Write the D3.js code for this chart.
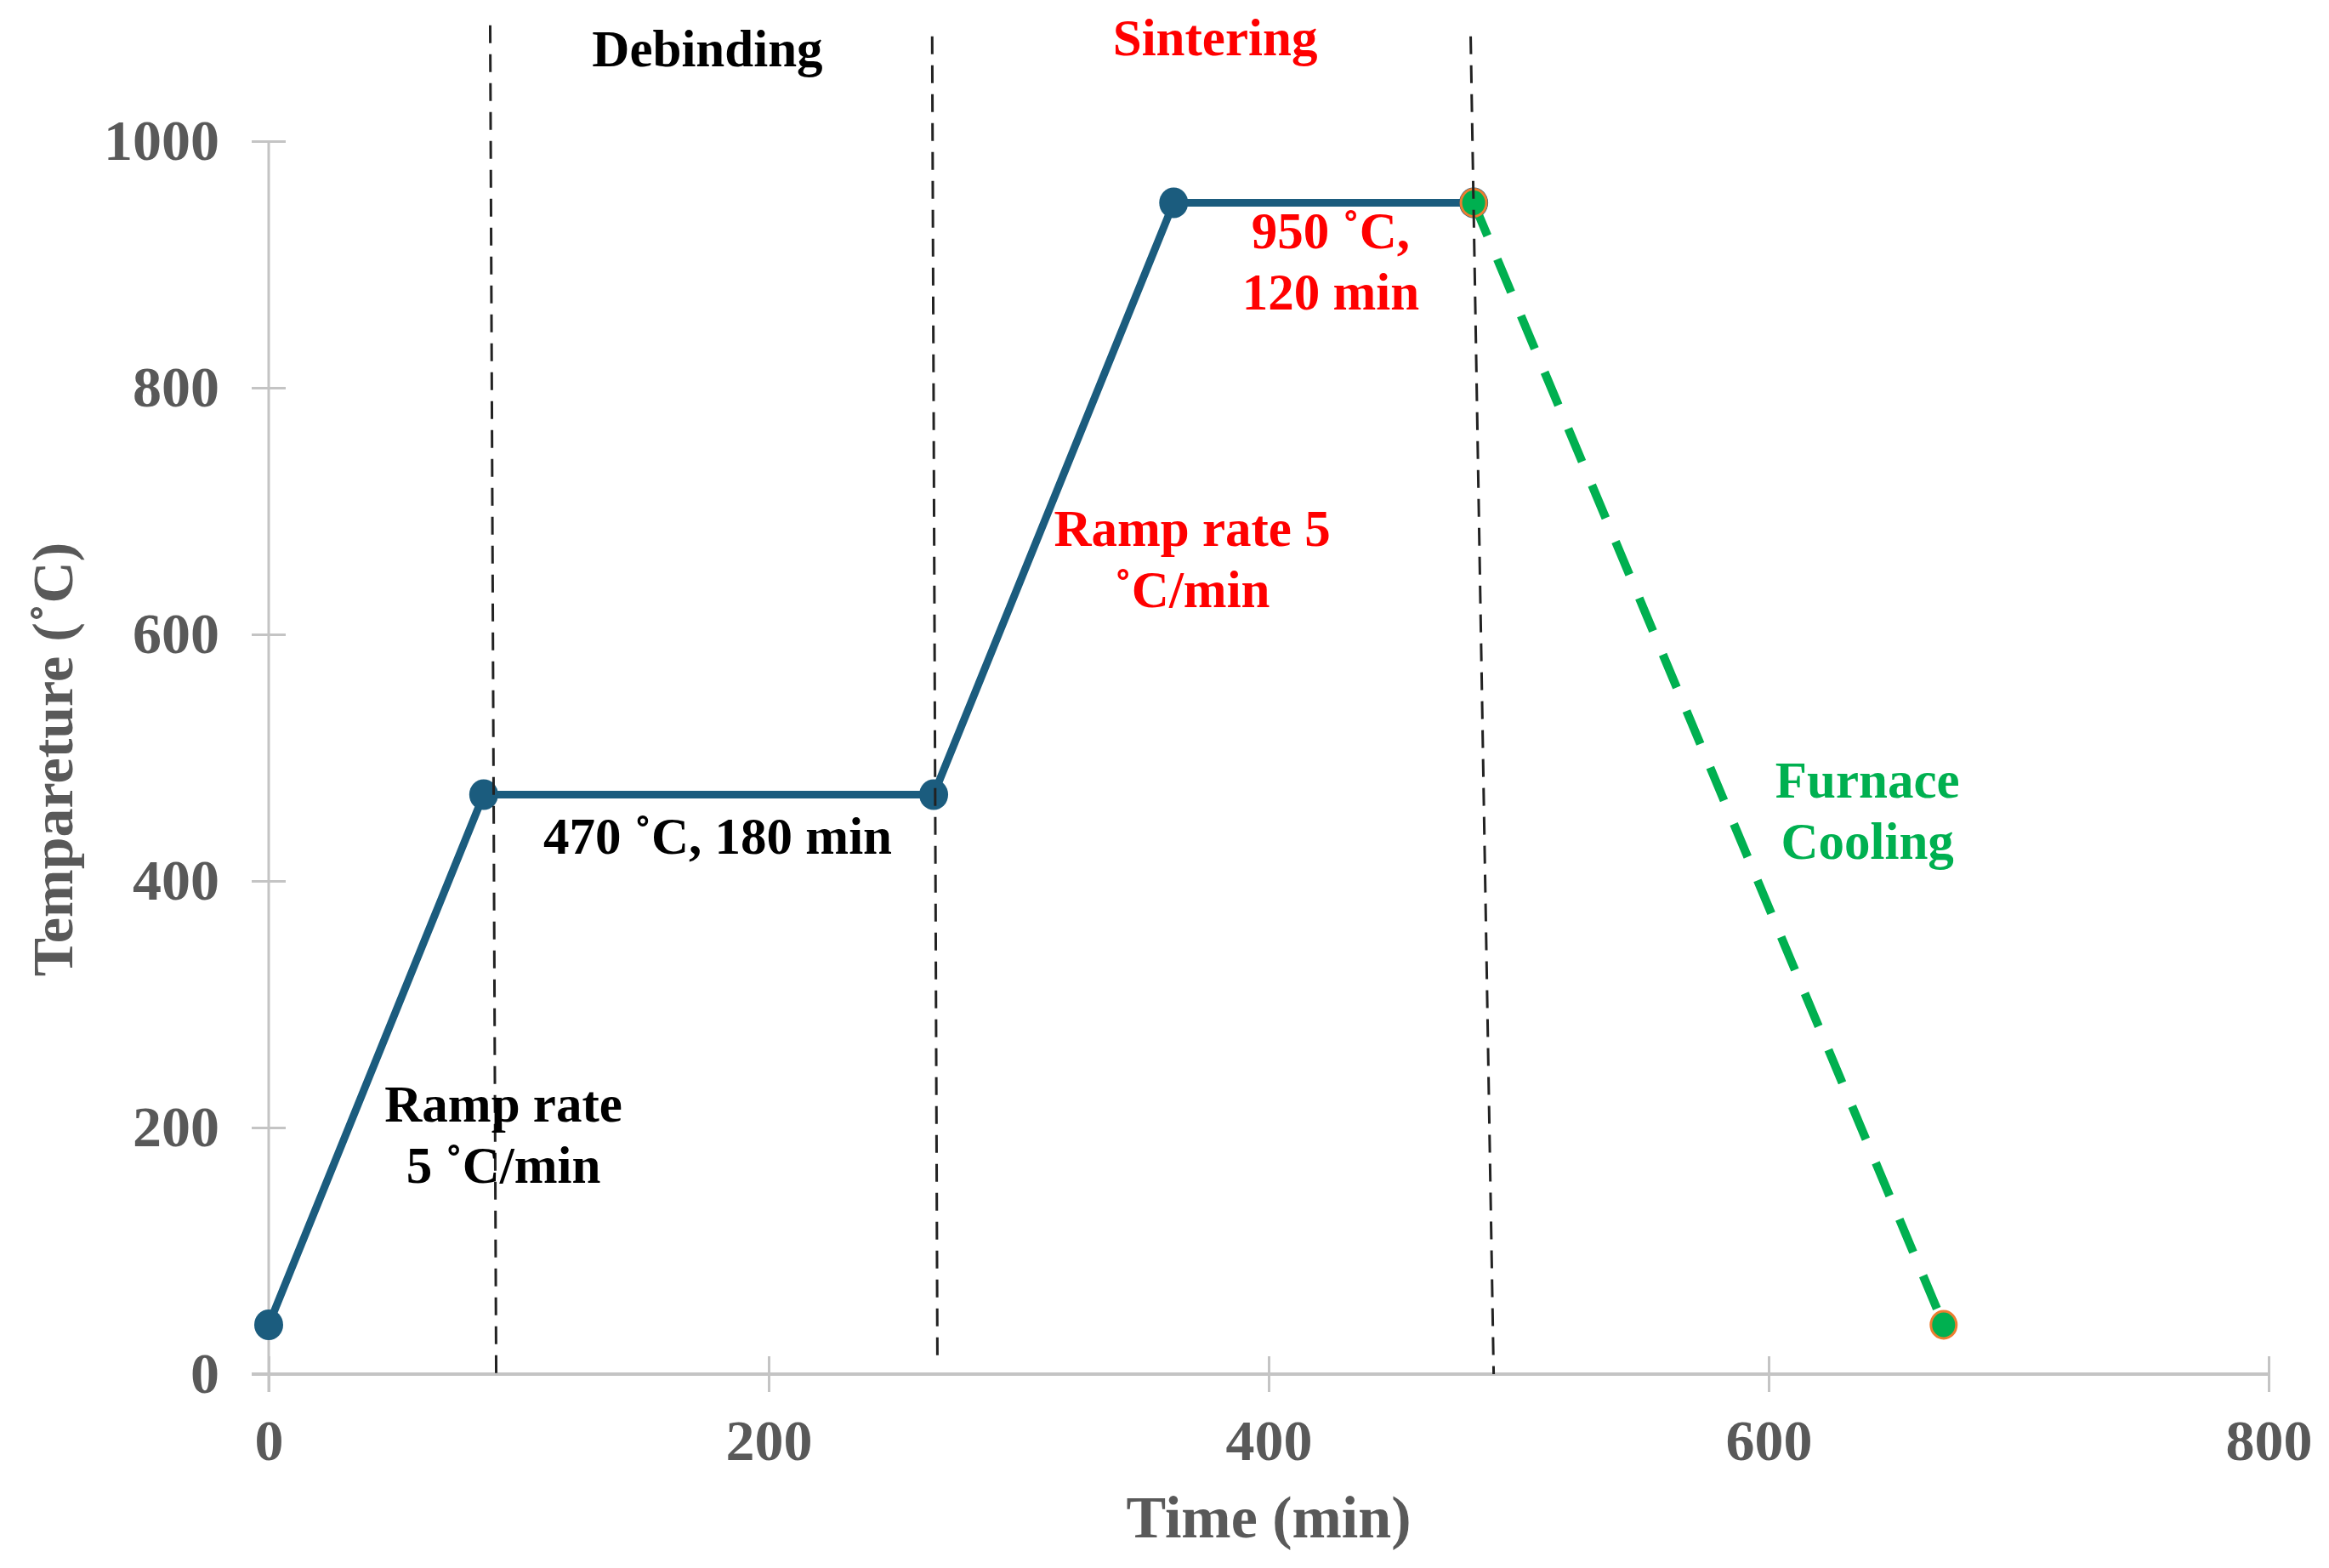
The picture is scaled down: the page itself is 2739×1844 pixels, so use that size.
<!DOCTYPE html>
<html lang="en">
  <head>
    <title>Sintering profile</title>
    <script src="https://d3js.org/d3.v7.min.js"></script>
    <style>
      body { margin: 0; background: #fff; }
      text { font-family: "Liberation Serif", "Times New Roman", serif; font-weight: bold; }
    </style>
  </head>
  <body>
    <svg id="chart" width="2739" height="1844"></svg>
    <script>
// heating schedule
var time = [0, 86, 266, 362, 482];
var temp = [40, 470, 470, 950, 950];
// furnace cooling
var coolTime = [482, 670];
var coolTemp = [950, 40];
// phase separators (hand drawn, slightly slanted)
var phaseTopTime = [88.6, 265.4, 480.8];
var phaseBottomTime = [91, 267.5, 490];
var phaseTopTemp = [1094, 1085, 1085];
var phaseBottomTemp = [0, 9, 0];

var xTicks = [0, 200, 400, 600, 800];
var yTicks = [0, 200, 400, 600, 800, 1000];

var svg = d3.select("#chart"),
    margin = {top: 166, right: 71, bottom: 228, left: 316},
    width = +svg.attr("width") - margin.left - margin.right,
    height = +svg.attr("height") - margin.top - margin.bottom;

var x = d3.scaleLinear().domain([0, 800]).range([0, width]),
    y = d3.scaleLinear().domain([0, 1000]).range([height, 0]);

var g = svg.append("g")
    .attr("transform", "translate(" + margin.left + "," + margin.top + ")");

// axes: gray lines with crossing ticks
var axisColor = "#c4c4c4";
var xAxis = g.append("g").attr("transform", "translate(0," + height + ")")
    .call(d3.axisBottom(x).tickValues(xTicks).tickFormat(d3.format("d")).tickSize(21).tickPadding(32).tickSizeOuter(0));
xAxis.select(".domain").remove();
xAxis.selectAll(".tick line").attr("y1", -21);
xAxis.append("line").attr("x1", -20).attr("x2", width).attr("stroke", axisColor).attr("stroke-width", 4);

var yAxis = g.append("g")
    .call(d3.axisLeft(y).tickValues(yTicks).tickFormat(d3.format("d")).tickSize(20).tickPadding(38).tickSizeOuter(0));
yAxis.select(".domain").remove();
yAxis.selectAll(".tick line").attr("x1", 20);
yAxis.append("line").attr("y1", 0).attr("y2", height + 21).attr("stroke", axisColor).attr("stroke-width", 3);

g.selectAll(".tick line").attr("stroke", axisColor).attr("stroke-width", 3);
g.selectAll(".tick text")
    .attr("fill", "#595959")
    .style("font-size", "68px");
xAxis.selectAll(".tick text").attr("dy", "0.71em");

// axis titles
g.append("text")
    .attr("x", width / 2)
    .attr("y", height + 192)
    .attr("text-anchor", "middle")
    .attr("fill", "#595959")
    .style("font-size", "70px")
    .text("Time (min)");

g.append("text")
    .attr("transform", "translate(" + (61 - margin.left + 24) + "," + (height / 2 + 2) + ") rotate(-90)")
    .attr("text-anchor", "middle")
    .attr("fill", "#595959")
    .style("font-size", "68px")
    .text("Tempareture (˚C)");

// heating series
var pts = time.map(function(t, i) { return [t, temp[i]]; });
var line = d3.line().x(function(d) { return x(d[0]); }).y(function(d) { return y(d[1]); });

g.append("path")
    .datum(pts)
    .attr("d", line)
    .attr("fill", "none")
    .attr("stroke", "#1b5c7e")
    .attr("stroke-width", 9)
    .attr("stroke-linejoin", "round");

g.selectAll(".heat")
    .data(pts)
    .enter().append("ellipse")
    .attr("class", "heat")
    .attr("cx", function(d) { return x(d[0]); })
    .attr("cy", function(d) { return y(d[1]); })
    .attr("rx", 17)
    .attr("ry", 18)
    .attr("fill", "#1b5c7e");

// cooling series
var coolPts = coolTime.map(function(t, i) { return [t, coolTemp[i]]; });
g.append("path")
    .datum(coolPts)
    .attr("d", line)
    .attr("fill", "none")
    .attr("stroke", "#00b050")
    .attr("stroke-width", 10)
    .attr("stroke-dasharray", "42,30");

g.selectAll(".cool")
    .data(coolPts)
    .enter().append("ellipse")
    .attr("class", "cool")
    .attr("cx", function(d) { return x(d[0]); })
    .attr("cy", function(d) { return y(d[1]); })
    .attr("rx", 15)
    .attr("ry", 16)
    .attr("fill", "#00b050")
    .attr("stroke", "#ed7d31")
    .attr("stroke-width", 3);

// phase separators
g.selectAll(".phase")
    .data(phaseTopTime)
    .enter().append("line")
    .attr("class", "phase")
    .attr("x1", function(d) { return x(d); })
    .attr("y1", function(d, i) { return y(phaseTopTemp[i]); })
    .attr("x2", function(d, i) { return x(phaseBottomTime[i]); })
    .attr("y2", function(d, i) { return y(phaseBottomTemp[i]); })
    .attr("stroke", "#222")
    .attr("stroke-width", 3)
    .attr("stroke-dasharray", "21,13");

// annotations
var notes = [
  {t: 175.5, v: 1061, lines: ["Debinding"], color: "#000"},
  {t: 378.6, v: 1070, lines: ["Sintering"], color: "#ff0000"},
  {t: 424.8, v: 913, lines: ["950 ˚C,", "120 min"], color: "#ff0000"},
  {t: 369.4, v: 672, lines: ["Ramp rate 5", "˚C/min"], color: "#ff0000"},
  {t: 179.6, v: 422, lines: ["470 ˚C, 180 min"], color: "#000"},
  {t: 93.9, v: 205, lines: ["Ramp rate", "5 ˚C/min"], color: "#000"},
  {t: 639.5, v: 467.6, lines: ["Furnace", "Cooling"], color: "#00b050"}
];

notes.forEach(function(n) {
  var txt = g.append("text")
      .attr("x", x(n.t))
      .attr("y", y(n.v))
      .attr("text-anchor", "middle")
      .attr("fill", n.color)
      .style("font-size", "61px");
  n.lines.forEach(function(l, i) {
    txt.append("tspan")
        .attr("x", x(n.t))
        .attr("dy", i === 0 ? 0 : 72)
        .text(l);
  });
});
    </script>
  </body>
</html>
